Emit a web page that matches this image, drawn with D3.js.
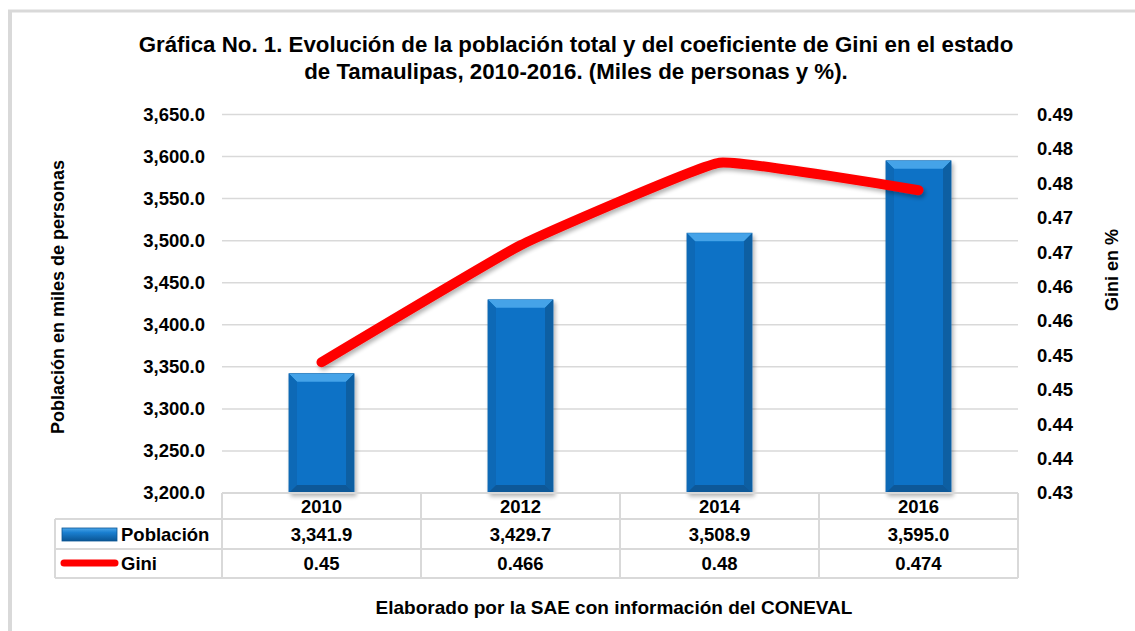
<!DOCTYPE html>
<html>
<head>
<meta charset="utf-8">
<script src="https://cdn.jsdelivr.net/npm/d3@7"></script>
<style>
  body { margin: 0; background: #fff; }
  svg { display: block; font-family: 'Liberation Sans', Arial, sans-serif; font-weight: bold; }
</style>
</head>
<body>
<svg id="chart" width="1135" height="631"></svg>
<script>
const years = ['2010', '2012', '2014', '2016'];
const poblacion = [3341.9, 3429.7, 3508.9, 3595.0];
const gini = [0.449, 0.466, 0.478, 0.474];
const giniLabels = ['0.45', '0.466', '0.48', '0.474'];
const leftTicks = [3200, 3250, 3300, 3350, 3400, 3450, 3500, 3550, 3600, 3650];
const rightTicks = [0.43, 0.435, 0.44, 0.445, 0.45, 0.455, 0.46, 0.465, 0.47, 0.475, 0.48, 0.485];
const rightTickLabels = ['0.43', '0.44', '0.44', '0.45', '0.45', '0.46', '0.46', '0.47', '0.47', '0.48', '0.48', '0.49'];

const svg = d3.select('#chart');
const grid = '#d9d9d9';

const plotL = 222, plotR = 1018, plotT = 114.5, plotB = 493;
const rowY = [493, 519, 549, 578];
const legendL = 55;

const x = d3.scaleBand().domain(years).range([plotL, plotR]);
const yL = d3.scaleLinear().domain([3200, 3650]).range([plotB, plotT]);
const yR = d3.scaleLinear().domain([0.43, 0.485]).range([plotB, plotT]);

// defs
const defs = svg.append('defs');
const sh = defs.append('filter').attr('id', 'shadow').attr('x', '-20%').attr('y', '-20%').attr('width', '140%').attr('height', '140%');
sh.append('feGaussianBlur').attr('in', 'SourceAlpha').attr('stdDeviation', 2);
sh.append('feOffset').attr('dx', 2).attr('dy', 3).attr('result', 'b');
sh.append('feComponentTransfer').append('feFuncA').attr('type', 'linear').attr('slope', 0.3);
const m = sh.append('feMerge');
m.append('feMergeNode');
m.append('feMergeNode').attr('in', 'SourceGraphic');

const bg = defs.append('linearGradient').attr('id', 'barGrad').attr('x1', 0).attr('x2', 1).attr('y1', 0).attr('y2', 0);
bg.append('stop').attr('offset', '0%').attr('stop-color', '#0a62aa');
bg.append('stop').attr('offset', '12%').attr('stop-color', '#0a72c6');
bg.append('stop').attr('offset', '88%').attr('stop-color', '#0a72c6');
bg.append('stop').attr('offset', '100%').attr('stop-color', '#0a5ea2');

// frame
svg.append('line').attr('x1', 8).attr('x2', 1135).attr('y1', 11).attr('y2', 11)
  .attr('stroke', grid).attr('stroke-width', 3);
svg.append('line').attr('x1', 10).attr('x2', 10).attr('y1', 10).attr('y2', 631)
  .attr('stroke', grid).attr('stroke-width', 4);

// title
svg.append('text').attr('x', 576).attr('y', 52).attr('text-anchor', 'middle')
  .style('font-size', '22.3px')
  .text('Gráfica No. 1. Evolución de la población total y del coeficiente de Gini en el estado');
svg.append('text').attr('x', 576).attr('y', 79).attr('text-anchor', 'middle')
  .style('font-size', '22.3px')
  .text('de Tamaulipas, 2010-2016. (Miles de personas y %).');

// gridlines
svg.append('g').selectAll('line').data(leftTicks.slice(1)).join('line')
  .attr('x1', plotL).attr('x2', plotR)
  .attr('y1', d => yL(d)).attr('y2', d => yL(d))
  .attr('stroke', grid).attr('stroke-width', 1.5);

// axes
const axL = svg.append('g').attr('transform', `translate(${plotL},0)`)
  .call(d3.axisLeft(yL).tickValues(leftTicks).tickFormat(d3.format(',.1f')).tickSize(0).tickPadding(17));
const axR = svg.append('g').attr('transform', `translate(${plotR},0)`)
  .call(d3.axisRight(yR).tickValues(rightTicks).tickFormat((d, i) => rightTickLabels[i]).tickSize(0).tickPadding(19));
[axL, axR].forEach(a => {
  a.select('.domain').remove();
  a.selectAll('text').style('font-size', '18.5px').style('font-family', "'Liberation Sans', Arial, sans-serif")
    .style('font-weight', 'bold').attr('fill', '#000');
});

svg.append('text').attr('transform', 'translate(64,297) rotate(-90)').attr('text-anchor', 'middle')
  .style('font-size', '18px').text('Población en miles de personas');
svg.append('text').attr('transform', 'translate(1118,270) rotate(-90)').attr('text-anchor', 'middle')
  .style('font-size', '18px').text('Gini en %');

// bars with bevel
const bw = x.bandwidth() * 0.327;
const bev = 8;
const bars = svg.append('g').selectAll('g').data(poblacion).join('g').attr('filter', 'url(#shadow)');
bars.each((d, i, n) => {
  const g = d3.select(n[i]);
  const x0 = x(years[i]) + (x.bandwidth() - bw) / 2, x1 = x0 + bw;
  const y0 = yL(d), y1 = yL(3200);
  g.append('rect').attr('x', x0).attr('y', y0).attr('width', bw).attr('height', y1 - y0)
    .attr('fill', 'url(#barGrad)').attr('stroke', '#1a6db0').attr('stroke-width', 0.8);
  const pts = p => p.map(q => q.join(',')).join(' ');
  g.append('polygon').attr('points', pts([[x0, y0], [x1, y0], [x1 - bev, y0 + bev], [x0 + bev, y0 + bev]]))
    .attr('fill', '#45a3e8');
  g.append('polygon').attr('points', pts([[x0, y0], [x0 + bev, y0 + bev], [x0 + bev, y1 - bev], [x0, y1]]))
    .attr('fill', '#0b69b6');
  g.append('polygon').attr('points', pts([[x1, y0], [x1 - bev, y0 + bev], [x1 - bev, y1 - bev], [x1, y1]]))
    .attr('fill', '#095ea2');
  g.append('polygon').attr('points', pts([[x0, y1], [x0 + bev, y1 - bev], [x1 - bev, y1 - bev], [x1, y1]]))
    .attr('fill', '#0a5898');
});

// gini line
const line = d3.line()
  .x((d, i) => x(years[i]) + x.bandwidth() / 2)
  .y(d => yR(d))
  .curve(d3.curveCardinal.tension(0.7));
svg.append('path').datum(gini).attr('d', line)
  .attr('fill', 'none').attr('stroke', '#ff0000').attr('stroke-width', 10)
  .attr('stroke-linecap', 'round').attr('stroke-linejoin', 'round')
  .attr('filter', 'url(#shadow)');

// data table
const tbl = svg.append('g').attr('stroke', grid).attr('stroke-width', 2);
tbl.append('line').attr('x1', plotL).attr('x2', plotR).attr('y1', rowY[0]).attr('y2', rowY[0]);
rowY.slice(1).forEach(yy => tbl.append('line').attr('x1', legendL).attr('x2', plotR).attr('y1', yy).attr('y2', yy));
tbl.append('line').attr('x1', legendL).attr('x2', legendL).attr('y1', rowY[1]).attr('y2', rowY[3]);
const cols = years.map(yr => x(yr)).concat([plotR]);
tbl.selectAll('.v').data(cols).join('line').attr('class', 'v')
  .attr('x1', d => d).attr('x2', d => d).attr('y1', rowY[0]).attr('y2', rowY[3]);

const mid = (a, b) => (a + b) / 2;
const cell = (arr, r, fmt) => svg.append('g').selectAll('text').data(arr).join('text')
  .attr('x', (d, i) => x(years[i]) + x.bandwidth() / 2)
  .attr('y', mid(rowY[r], rowY[r + 1]))
  .attr('dy', '0.36em').attr('text-anchor', 'middle')
  .style('font-size', '18.5px').text(fmt);
cell(years, 0, d => d);
cell(poblacion, 1, d => d3.format(',.1f')(d));
cell(giniLabels, 2, d => d);

// legend keys
const lg = defs.append('linearGradient').attr('id', 'legGrad').attr('x1', 0).attr('x2', 0).attr('y1', 0).attr('y2', 1);
lg.append('stop').attr('offset', '0%').attr('stop-color', '#4aa6ea');
lg.append('stop').attr('offset', '35%').attr('stop-color', '#1a7fd0');
lg.append('stop').attr('offset', '100%').attr('stop-color', '#0a5594');
svg.append('rect').attr('x', 62).attr('y', 528).attr('width', 55).attr('height', 13)
  .attr('fill', 'url(#legGrad)').attr('stroke', '#0a5594').attr('stroke-width', 0.8);
svg.append('line').attr('x1', 64).attr('x2', 115).attr('y1', 563).attr('y2', 563)
  .attr('stroke', '#ff0000').attr('stroke-width', 7).attr('stroke-linecap', 'round');
svg.append('text').attr('x', 121).attr('y', mid(rowY[1], rowY[2])).attr('dy', '0.36em')
  .style('font-size', '18.5px').text('Población');
svg.append('text').attr('x', 121).attr('y', mid(rowY[2], rowY[3])).attr('dy', '0.36em')
  .style('font-size', '18.5px').text('Gini');

// source
svg.append('text').attr('x', 614).attr('y', 614).attr('text-anchor', 'middle')
  .style('font-size', '19px').text('Elaborado por la SAE con información del CONEVAL');
</script>
</body>
</html>
